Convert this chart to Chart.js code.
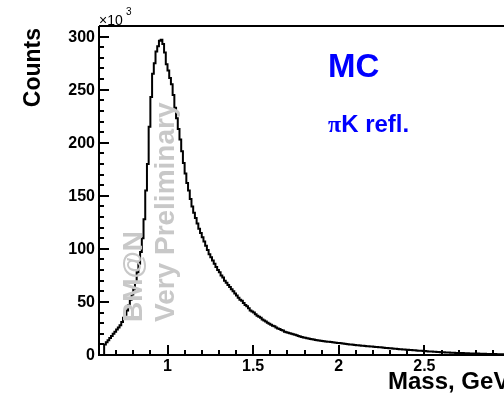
<!DOCTYPE html>
<html>
<head>
<meta charset="utf-8">
<script src="https://cdn.jsdelivr.net/npm/chart.js@4/dist/chart.umd.min.js"></script>
<style>
html,body{margin:0;padding:0;background:#fff;width:504px;height:401px;overflow:hidden;}
#wrap{position:absolute;left:0;top:0;width:560px;height:401px;}
</style>
</head>
<body>
<div id="wrap"><canvas id="c" width="560" height="401"></canvas></div>
<script>
// ---- data (counts in units of 10^3, bins of 0.01 GeV starting at 0.60) ----
const binStart = 0.60;
const binWidth = 0.01;
const counts = [
  0, 0, 0, 10, 12, 14, 16, 18, 20, 22,
  24, 26, 28, 31, 35, 38, 42, 47, 52, 57,
  62, 68, 78, 86, 97, 110, 128, 155, 180, 215,
  243, 265, 275, 286, 291, 296, 297, 293, 285, 274,
  268, 261, 255, 245, 233, 223, 213, 203, 192, 181,
  171, 162, 155, 147, 140, 134, 129, 124, 119, 115,
  111, 107, 103, 99, 95, 92, 89, 86, 83, 80,
  78, 75, 73, 70, 68, 66, 64, 62, 60, 58,
  56, 54, 52, 51, 49, 47, 46, 44, 42, 41,
  40, 38.5, 37, 36, 35, 33.5, 32.5, 31.5, 30.5, 29.5,
  28.5, 27.5, 27, 26, 25, 24.5, 23.5, 23, 22, 21.5,
  21, 20.4, 20, 19.5, 19, 18.5, 18, 17.5, 17, 16.6,
  16.2, 15.8, 15.5, 15.1, 14.8, 14.5, 14.2, 14, 13.7, 13.5,
  13.2, 13, 12.8, 12.6, 12.4, 12.2, 12, 11.8, 11.6, 11.4,
  11.2, 11.0, 10.8, 10.6, 10.4, 10.2, 10.0, 9.8, 9.6, 9.4,
  9.2, 9.1, 8.9, 8.8, 8.6, 8.5, 8.3, 8.2, 8.0, 7.9,
  7.8, 7.6, 7.5, 7.3, 7.2, 7.0, 6.9, 6.7, 6.6, 6.4,
  6.3, 6.1, 6.0, 5.8, 5.7, 5.5, 5.4, 5.3, 5.1, 5.0,
  4.9, 4.8, 4.6, 4.5, 4.4, 4.2, 4.1, 4.0, 3.9, 3.8,
  3.7, 3.6, 3.4, 3.3, 3.2, 3.1, 3.0, 2.9, 2.8, 2.7,
  2.6, 2.5, 2.4, 2.4, 2.3, 2.2, 2.1, 2.1, 2.0, 1.9,
  1.9, 1.8, 1.8, 1.7, 1.6, 1.6, 1.5, 1.5, 1.4, 1.4,
  1.3, 1.3, 1.2, 1.2, 1.1, 1.1, 1.0, 1.0, 1.0, 0.9,
  0.9, 0.9, 0.8, 0.8, 0.8, 0.7, 0.7, 0.7, 0.6, 0.6
];
const xRange = [0.6, 3.0];
const yRange = [0, 310];
const yTicks = [0, 50, 100, 150, 200, 250, 300];
const yTickLabels = ['0', '50', '100', '150', '200', '250', '300'];
const xTicks = [1, 1.5, 2, 2.5];
const xTickLabels = ['1', '1.5', '2', '2.5'];
const yMinorStep = 10;
const xMinorStep = 0.1;
const xTitle = 'Mass, GeV/c\u00B2';
const yTitle = 'Counts';
const yExponent = '3';
const labelMC = 'MC';
const labelPi = '\u03C0';
const labelRefl = 'K refl.';
const watermark1 = 'BM@N';
const watermark2 = 'Very Preliminary';

// histogram points at bin centres, drawn as steps between centres (edges)
const points = counts.map((v, i) => ({ x: binStart + (i + 0.5) * binWidth, y: v }));

const SANS = '"Liberation Sans", Arial, Helvetica, sans-serif';
const SERIF = '"Liberation Serif", "Times New Roman", serif';

const rootStyle = {
  id: 'rootStyle',
  afterDatasetsDraw(chart) {
    const ctx = chart.ctx;
    [[watermark1, 142], [watermark2, 174]].forEach(([txt, bx]) => {
      ctx.save();
      ctx.fillStyle = '#c8c8c8';
      ctx.font = 'bold 28px ' + SANS;
      ctx.textAlign = 'left';
      ctx.textBaseline = 'alphabetic';
      ctx.translate(bx, 322);
      ctx.rotate(-Math.PI / 2);
      ctx.fillText(txt, 0, 0);
      ctx.restore();
    });
  },
  afterDraw(chart) {
    const ctx = chart.ctx;
    const xs = chart.scales.x, ys = chart.scales.y;
    const a = chart.chartArea;
    ctx.save();
    ctx.strokeStyle = '#000';
    ctx.lineWidth = 2;
    // frame
    ctx.beginPath();
    ctx.moveTo(a.left, a.top); ctx.lineTo(a.right, a.top);
    ctx.moveTo(a.left, a.top); ctx.lineTo(a.left, a.bottom);
    ctx.moveTo(a.left - 1, a.bottom); ctx.lineTo(a.right, a.bottom);
    ctx.moveTo(a.right, a.top); ctx.lineTo(a.right, a.bottom);
    ctx.stroke();
    // y ticks
    ctx.beginPath();
    for (let v = yRange[0]; v <= yRange[1] + 1e-9; v += yMinorStep) {
      const py = Math.round(ys.getPixelForValue(v));
      const major = yTicks.some(t => Math.abs(t - v) < 1e-6);
      ctx.moveTo(a.left, py); ctx.lineTo(a.left + (major ? 10 : 5), py);
    }
    // x ticks
    for (let i = 0; ; i++) {
      const v = xRange[0] + i * xMinorStep;
      if (v > xRange[1] + 1e-9) break;
      const px = Math.round(xs.getPixelForValue(v));
      const major = Math.abs(v * 2 - Math.round(v * 2)) < 1e-6;
      ctx.moveTo(px, a.bottom); ctx.lineTo(px, a.bottom - (major ? 10 : 5));
    }
    ctx.stroke();
    // tick labels
    ctx.fillStyle = '#000';
    ctx.font = 'bold 16px ' + SANS;
    ctx.textAlign = 'right';
    ctx.textBaseline = 'middle';
    yTicks.forEach((t, i) => ctx.fillText(yTickLabels[i], a.left - 4, ys.getPixelForValue(t) + 1));
    ctx.textAlign = 'center';
    ctx.textBaseline = 'top';
    xTicks.forEach((t, i) => ctx.fillText(xTickLabels[i], xs.getPixelForValue(t), a.bottom + 4));
    // exponent
    ctx.textAlign = 'left';
    ctx.textBaseline = 'alphabetic';
    ctx.font = '14px ' + SANS;
    ctx.fillText('\u00D710', a.left, 25);
    ctx.font = '10px ' + SANS;
    ctx.fillText(yExponent, a.left + 27, 15);
    // axis titles
    ctx.font = 'bold 24px ' + SANS;
    ctx.textAlign = 'left';
    ctx.fillText(xTitle, 388, 389);
    ctx.save();
    ctx.translate(40, 28);
    ctx.rotate(-Math.PI / 2);
    ctx.textAlign = 'right';
    ctx.font = 'bold 23px ' + SANS;
    ctx.fillText(yTitle, 0, 0);
    ctx.restore();
    // labels
    ctx.fillStyle = 'rgb(0,0,255)';
    ctx.textAlign = 'left';
    ctx.font = 'bold 33px ' + SANS;
    ctx.fillText(labelMC, 328, 77);
    ctx.font = 'bold 24px ' + SERIF;
    ctx.fillText(labelPi, 328, 132);
    const pw = ctx.measureText(labelPi).width;
    ctx.font = 'bold 24px ' + SANS;
    ctx.fillText(labelRefl, 328 + pw, 132);
    ctx.restore();
  }
};

new Chart(document.getElementById('c'), {
  type: 'line',
  data: {
    datasets: [{
      data: points,
      borderColor: '#000',
      borderWidth: 2,
      pointRadius: 0,
      fill: false,
      stepped: 'middle',
      tension: 0
    }]
  },
  options: {
    responsive: false,
    animation: false,
    devicePixelRatio: 1,
    layout: { padding: { left: 99, top: 26, right: 50, bottom: 46 } },
    plugins: { legend: { display: false }, tooltip: { enabled: false } },
    scales: {
      x: { type: 'linear', min: xRange[0], max: xRange[1], display: false },
      y: { type: 'linear', min: yRange[0], max: yRange[1], display: false }
    }
  },
  plugins: [rootStyle]
});
</script>
</body>
</html>
